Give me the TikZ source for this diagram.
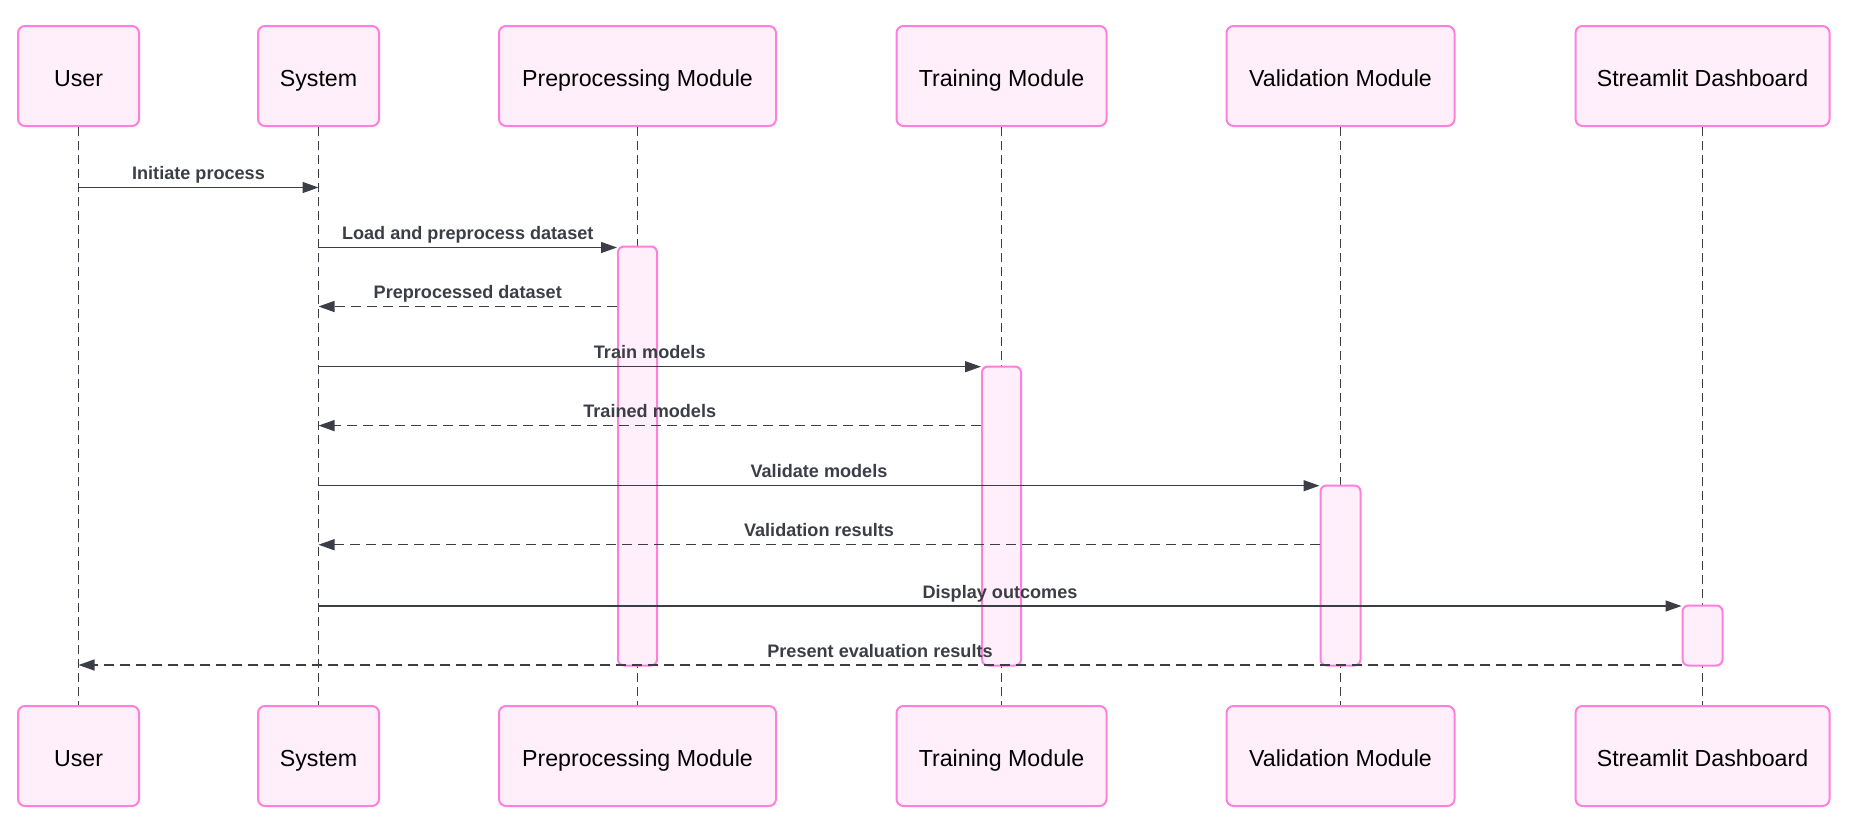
\documentclass[tikz,border=0pt]{standalone}
\usepackage{fontspec}
\setmainfont{Liberation Sans}
\usetikzlibrary{arrows.meta,fit}
\definecolor{boxpink}{HTML}{FF80DC}
\definecolor{boxfill}{HTML}{FFEFFA}
\definecolor{lineclr}{HTML}{3B3E46}
\tikzset{
  actor/.style={draw=boxpink, fill=boxfill, line width=2pt, rounded corners=7pt,
    minimum height=100pt, text height=20pt, text depth=0pt,
    font=\fontsize{23.2}{27}\selectfont},
  lifeline/.style={draw=lineclr, line width=1.2pt, dash pattern=on 9pt off 5pt},
  act/.style={draw=boxpink, fill=boxfill, line width=2pt, rounded corners=6pt, inner sep=0pt},
  msg/.style={draw=lineclr, line width=1.4pt, -{Triangle[length=16pt,width=11pt]}},
  reply/.style={msg, dash pattern=on 10pt off 6pt},
  lbl/.style={anchor=base, yshift=8pt, text=lineclr,
    font=\fontsize{18.1}{22}\selectfont\bfseries},
}
\begin{document}
\begin{tikzpicture}[x=1pt,y=-1pt]
\useasboundingbox (0,0) rectangle (1849,817);
\foreach \n/\x/\w/\t in {user/78.5/121/User, sys/318.5/121/System,
    pre/637.5/277/Preprocessing Module, train/1001.5/210/Training Module,
    val/1340.5/228/Validation Module, board/1702.5/254/Streamlit Dashboard}{
  \node[actor, minimum width=\w pt] (\n) at (\x,76) {\t};
  \node[actor, minimum width=\w pt] (\n-b) at (\x,756) {\t};
  \draw[lifeline] (\n) -- (\n-b);
}
% activations
\node[act, fit={(618,246.5) (657,665.5)}] (preAct) {};
\node[act, fit={(982,366.5) (1021,665.5)}] (trainAct) {};
\node[act, fit={(1320.5,485.5) (1360.5,665.5)}] (valAct) {};
\node[act, fit={(1682.5,605.5) (1722.5,665.5)}] (boardAct) {};
% messages
\draw[msg] (user |- 0,187.5) -- node[lbl]{Initiate process} (sys |- 0,187.5);
\draw[msg] (sys |- 0,247.5) -- node[lbl]{Load and preprocess dataset} (preAct.west |- 0,247.5);
\draw[reply] (preAct.west |- 0,306.5) -- node[lbl]{Preprocessed dataset} (sys |- 0,306.5);
\draw[msg] (sys |- 0,366.7) -- node[lbl]{Train models} (trainAct.west |- 0,366.7);
\draw[reply] (trainAct.west |- 0,425.6) -- node[lbl]{Trained models} (sys |- 0,425.6);
\draw[msg] (sys |- 0,485.7) -- node[lbl]{Validate models} (valAct.west |- 0,485.7);
\draw[reply] (valAct.west |- 0,544.7) -- node[lbl]{Validation results} (sys |- 0,544.7);
\draw[msg] (sys |- 0,606) -- node[lbl]{Display outcomes} (boardAct.west |- 0,606);
\draw[reply] (boardAct.west |- 0,665) -- node[lbl]{Present evaluation results} (user |- 0,665);
\end{tikzpicture}
\end{document}
